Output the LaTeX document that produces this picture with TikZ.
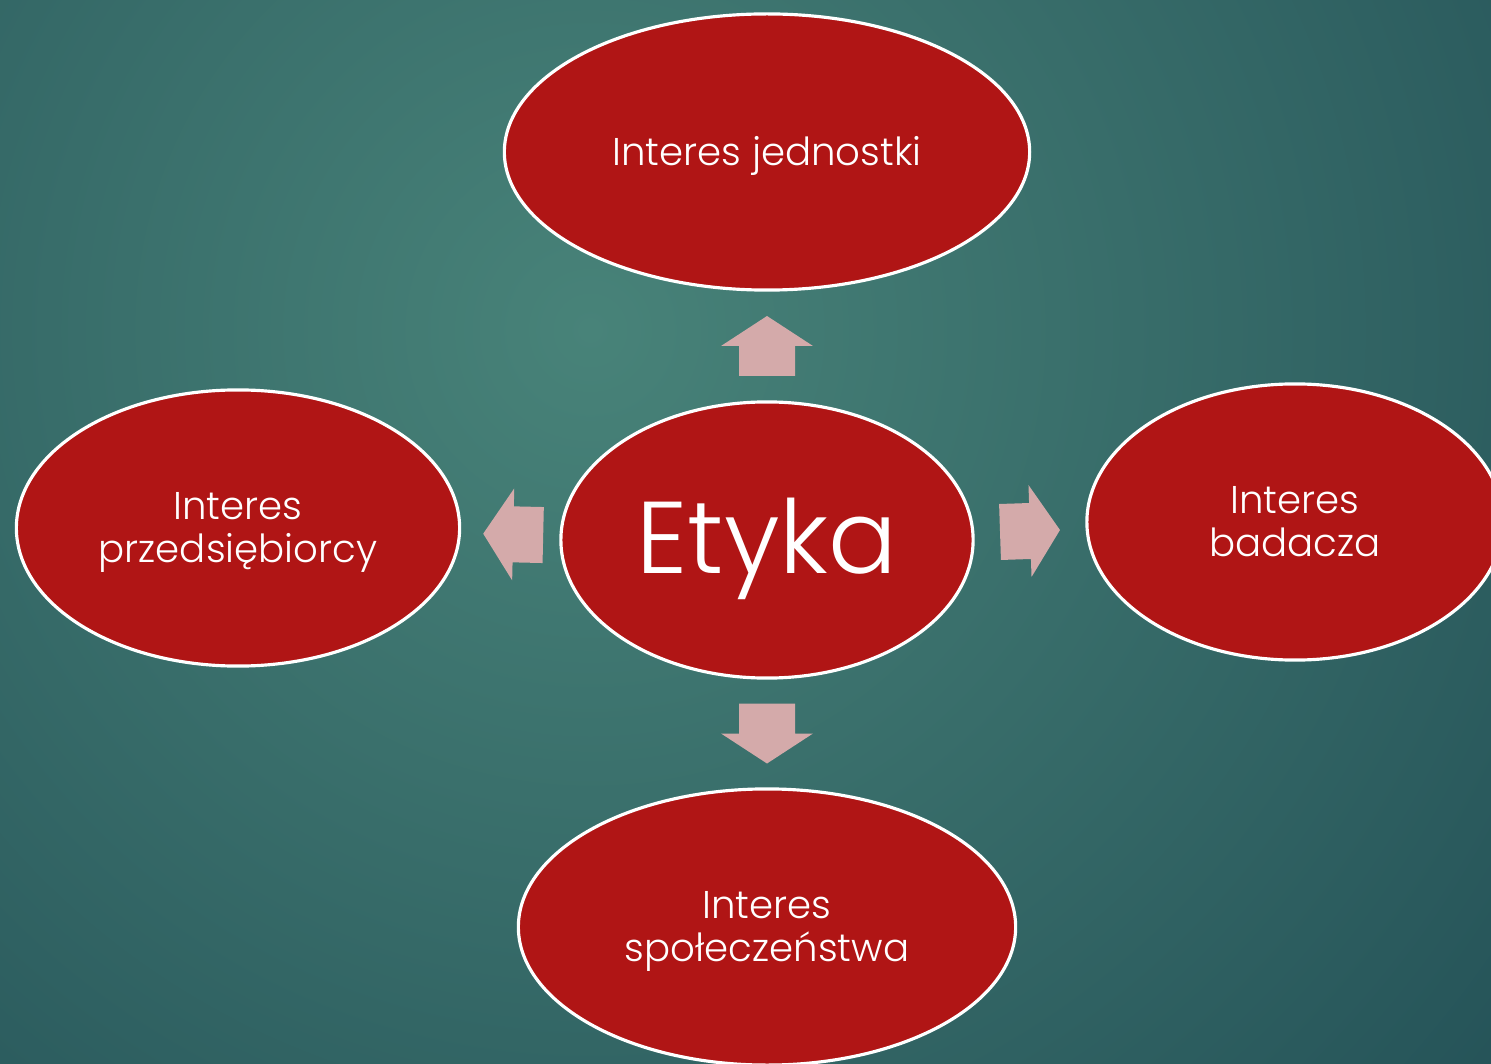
\documentclass[tikz,border=0pt]{standalone}
\usepackage{fontspec}
\setmainfont{Poppins}[UprightFont=* Light]
\usepackage{tikz}
\usetikzlibrary{shapes.geometric,calc}

\definecolor{ellred}{RGB}{176,21,21}
\definecolor{arrowpink}{RGB}{212,170,170}
\definecolor{bginner}{RGB}{72,131,121}
\definecolor{bgouter}{RGB}{26,68,78}

\begin{document}
\begin{tikzpicture}[x=0.01cm,y=-0.01cm,
  bubble/.style={ellipse,fill=ellred,draw=white,line width=0.9pt,
    inner sep=0pt,minimum height=2.76cm,text=white,align=center,
    font=\fontsize{11}{12.5}\selectfont},
  oneline/.style={text height=7.4pt,text depth=0pt},
  twolines/.style={text height=19.9pt,text depth=0pt},
  pics/blockarrow/.style={code={
    \fill[arrowpink] (-30,-28) -- (0,-28) -- (0,-46) -- (30,0)
      -- (0,46) -- (0,28) -- (-30,28) -- cycle;}}]
  \def\frame{(0,0) rectangle (1491,1064)}

  % Background
  \useasboundingbox \frame;
  \clip \frame;
  \shade[inner color=bginner,outer color=bgouter] (590,330) circle (1550);

  % Draw the ellipses
  \node[bubble,oneline,minimum width=5.25cm] (jednostki) at (767,152) {Interes jednostki};
  \node[bubble,twolines,minimum width=4.43cm] (przedsiebiorcy) at (238,528) {Interes\\przedsiębiorcy};
  \node[bubble,minimum width=4.12cm,font=\fontsize{29}{29}\selectfont,
    text height=18.8pt,text depth=0pt] (etyka) at (767,540) {Etyka};
  \node[bubble,twolines,minimum width=4.16cm] (badacza) at (1295,522) {Interes\\badacza};
  \node[bubble,twolines,minimum width=4.97cm] (spoleczenstwa) at (767,927) {Interes\\społeczeństwa};

  % Block arrows
  \pic[rotate=90] at ($(etyka.north)!0.5!(jednostki.south)$) {blockarrow};
  \pic[rotate=270] at ($(etyka.south)!0.5!(spoleczenstwa.north)$) {blockarrow};
  \pic[rotate=178.7] at ($(etyka.west)!0.47!(przedsiebiorcy.east)$) {blockarrow};
  \pic[rotate=1.9] at ($(etyka.east)!0.5!(badacza.west)$) {blockarrow};

\end{tikzpicture}
\end{document}
